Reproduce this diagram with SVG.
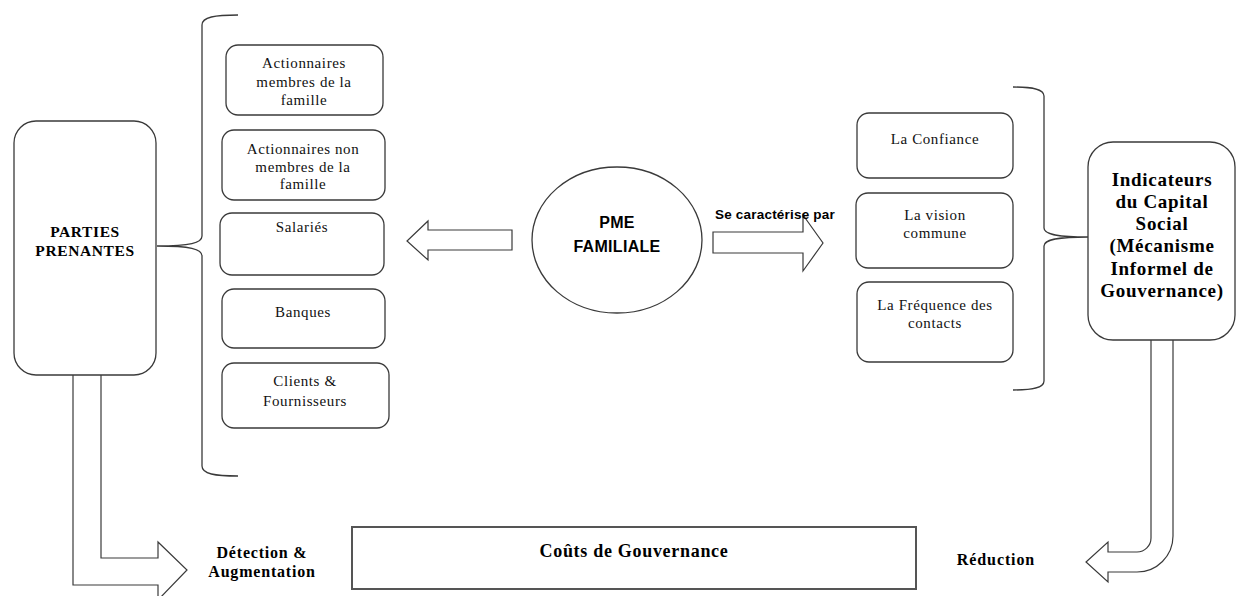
<svg xmlns="http://www.w3.org/2000/svg" width="1237" height="596" viewBox="0 0 1237 596">
<style>
.box{fill:#fff;stroke:#3a3a3a;stroke-width:1.3}
.ln{fill:none;stroke:#3a3a3a;stroke-width:1.3}
.arr{fill:#fff;stroke:#3a3a3a;stroke-width:1.2;stroke-linejoin:miter}
.t{font-family:"Liberation Serif","Times New Roman",serif;font-size:15px;letter-spacing:0.6px;fill:#111;text-anchor:middle}
.b{font-family:"Liberation Serif","Times New Roman",serif;font-weight:bold;fill:#000;text-anchor:middle}
.s{font-family:"Liberation Sans",Arial,sans-serif;font-weight:bold;fill:#000}
</style>
<rect width="1237" height="596" fill="#fff"/>
<g id="connectors">
<path class="ln" d="M238,15 C215,15 202,17 202,25 L202,236 C202,243 190,246 157,246 C190,246 202,249 202,256 L202,466 C202,474 215,476 238,476"/>
<path class="ln" d="M1013,87 C1032,87 1044,89 1044,96 L1044,228 C1044,234 1055,237 1088,237 C1055,237 1044,240 1044,246 L1044,381 C1044,388 1032,390 1013,390"/>
<polygon class="arr" points="512,230 428,230 428,221 407,241 428,260 428,250 512,250"/>
<polygon class="arr" points="713,232 803,232 803,215 823,243 803,271 803,253 713,253"/>
<polygon class="arr" points="73,374 73,585 158,585 158,600 187,570 158,542 158,558 101,558 101,374"/>
<path class="arr" d="M1151,340 L1151,538 A14,14 0 0 1 1137,552 L1108,552 L1108,542 L1086,562 L1108,582 L1108,572 L1137,572 A36,36 0 0 0 1173,536 L1173,340"/>
<text class="s" x="715" y="219" font-size="13.5" letter-spacing="0.2">Se caractérise par</text>
<text class="b" x="262" y="558" font-size="16" letter-spacing="0.8">Détection &amp;</text>
<text class="b" x="262" y="577" font-size="16" letter-spacing="0.8">Augmentation</text>
<text class="b" x="996" y="565" font-size="16" letter-spacing="0.9">Réduction</text>
</g>
<g id="parties">
<rect class="box" x="14" y="121" width="142" height="254" rx="22"/>
<text class="b" x="85" y="237" font-size="15.5" letter-spacing="0.6">PARTIES</text>
<text class="b" x="85" y="256" font-size="15.5" letter-spacing="0.6">PRENANTES</text>
</g>
<g id="act-membres">
<rect class="box" x="226" y="45" width="157" height="70" rx="12"/>
<text class="t" x="304" y="68">Actionnaires</text>
<text class="t" x="304" y="87">membres de la</text>
<text class="t" x="304" y="105">famille</text>
</g>
<g id="act-non-membres">
<rect class="box" x="222" y="130" width="163" height="70" rx="12"/>
<text class="t" x="303" y="154">Actionnaires non</text>
<text class="t" x="303" y="172">membres de la</text>
<text class="t" x="303" y="189">famille</text>
</g>
<g id="salaries">
<rect class="box" x="220" y="213" width="164" height="62" rx="12"/>
<text class="t" x="302" y="232">Salariés</text>
</g>
<g id="banques">
<rect class="box" x="222" y="289" width="163" height="59" rx="12"/>
<text class="t" x="303" y="317">Banques</text>
</g>
<g id="clients">
<rect class="box" x="222" y="363" width="167" height="65" rx="12"/>
<text class="t" x="305" y="386">Clients &amp;</text>
<text class="t" x="305" y="406">Fournisseurs</text>
</g>
<g id="pme">
<ellipse class="box" cx="617" cy="240" rx="85" ry="73"/>
<text class="s" x="617" y="228" font-size="16" letter-spacing="0.3" text-anchor="middle">PME</text>
<text class="s" x="617" y="252" font-size="16" letter-spacing="0.3" text-anchor="middle">FAMILIALE</text>
</g>
<g id="confiance">
<rect class="box" x="857" y="113" width="156" height="65" rx="12"/>
<text class="t" x="935" y="144">La Confiance</text>
</g>
<g id="vision">
<rect class="box" x="856" y="193" width="157" height="75" rx="12"/>
<text class="t" x="935" y="220">La vision</text>
<text class="t" x="935" y="238">commune</text>
</g>
<g id="frequence">
<rect class="box" x="857" y="282" width="156" height="80" rx="12"/>
<text class="t" x="935" y="310">La Fréquence des</text>
<text class="t" x="935" y="328">contacts</text>
</g>
<g id="indicateurs">
<rect class="box" x="1088" y="142" width="147" height="198" rx="25"/>
<text class="b" x="1162" y="186" font-size="19" letter-spacing="0.7">Indicateurs</text>
<text class="b" x="1162" y="208" font-size="19" letter-spacing="0.7">du Capital</text>
<text class="b" x="1162" y="230" font-size="19" letter-spacing="0.7">Social</text>
<text class="b" x="1162" y="252" font-size="19" letter-spacing="0.7">(Mécanisme</text>
<text class="b" x="1162" y="275" font-size="19" letter-spacing="0.7">Informel de</text>
<text class="b" x="1162" y="297" font-size="19" letter-spacing="0.7">Gouvernance)</text>
</g>
<g id="couts">
<rect x="352" y="527" width="564" height="62" fill="#fff" stroke="#555" stroke-width="2"/>
<text class="b" x="634" y="557" font-size="18" letter-spacing="0.7">Coûts de Gouvernance</text>
</g>
</svg>
